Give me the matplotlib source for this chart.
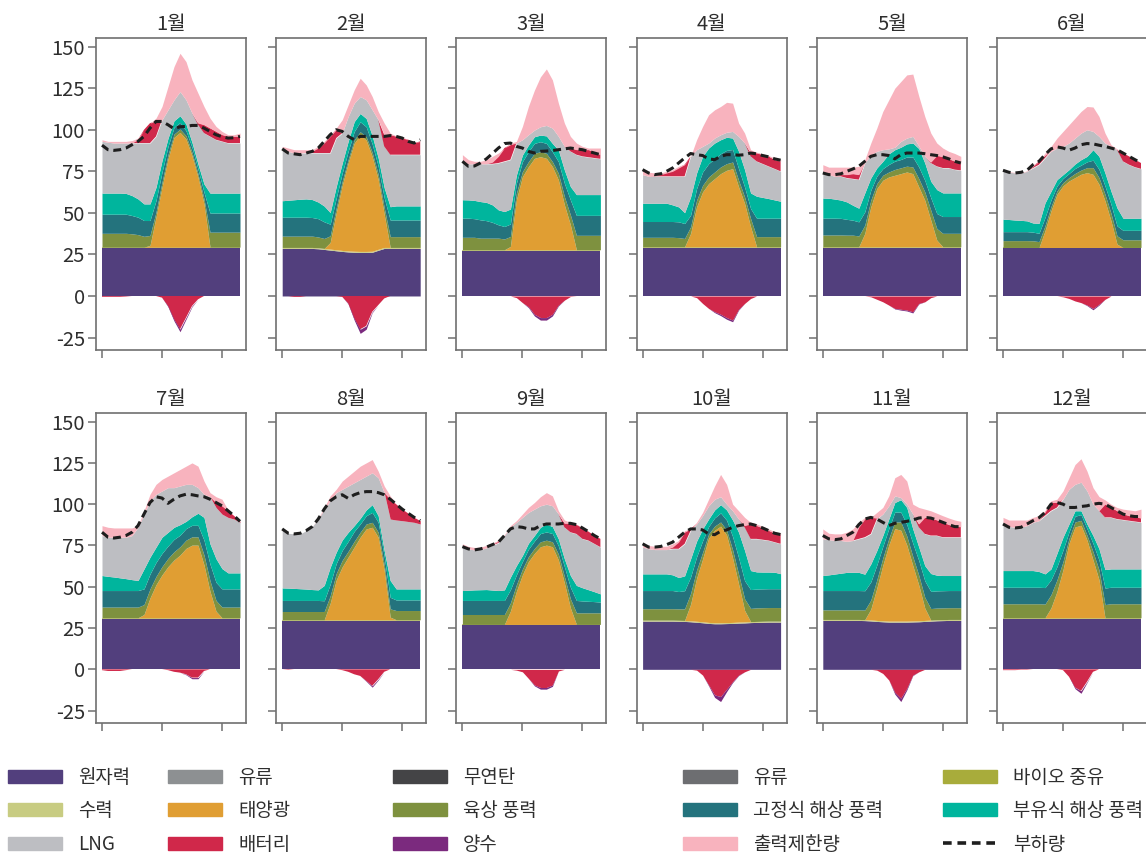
import matplotlib
matplotlib.use("Agg")
import numpy as np
import matplotlib.pyplot as plt
from matplotlib.patches import Patch
from matplotlib.lines import Line2D

plt.rcParams['font.family'] = ['Noto Sans CJK KR', 'DejaVu Sans']
plt.rcParams['font.weight'] = 'light'
plt.rcParams['axes.unicode_minus'] = False

HOURS = list(range(24))
MONTHS = ['1월', '2월', '3월', '4월', '5월', '6월', '7월', '8월', '9월', '10월', '11월', '12월']

# hourly generation per month (one list of 24 values per month)
NUCLEAR = [
    [28.6] * 24,
    [28.6, 28.6, 28.6, 28.6, 28.6, 28.6, 28.4, 28, 27.6, 27.2, 26.8, 26.5, 26.3, 26.2, 26.2, 26.3, 27.5, 28.6, 28.6, 28.6, 28.6, 28.6, 28.6, 28.6],
    [27.2] * 24,
    [28.6] * 24,
    [29] * 24,
    [28.6] * 24,
    [30.6] * 24,
    [29.2] * 24,
    [26.6] * 24,
    [29.2, 29.2, 29.2, 29.2, 29.2, 29.2, 29.1, 29, 28.8, 28.5, 28.2, 27.8, 27.6, 27.6, 27.7, 27.8, 28, 28.1, 28.3, 28.4, 28.5, 28.6, 28.6, 28.6],
    [29.6, 29.6, 29.6, 29.6, 29.6, 29.6, 29.6, 29.5, 29.3, 29, 28.8, 28.6, 28.6, 28.6, 28.6, 28.7, 28.8, 29, 29.2, 29.4, 29.5, 29.6, 29.6, 29.6],
    [30.6] * 24,
]
HYDRO = [[0.8] * 24, [0.6] * 24, [0.6] * 24, [1.0] * 24, [0.6] * 24, [0.6] * 24,
         [0.6] * 24, [0.8] * 24, [0.6] * 24, [0.6] * 24, [0.6] * 24, [0.6] * 24]
SOLAR = [
    [0, 0, 0, 0, 0, 0, 0, 0, 1, 18, 36, 53, 66, 69, 65, 55, 42, 26, 0, 0, 0, 0, 0, 0],
    [0, 0, 0, 0, 0, 0, 0, 0, 4, 22, 39, 53, 65, 70, 67, 57, 42, 20, 0, 0, 0, 0, 0, 0],
    [0, 0, 0, 0, 0, 0, 0, 0, 2, 30, 44, 50, 55, 56, 55, 50, 42, 27, 15, 0, 0, 0, 0, 0],
    [0, 0, 0, 0, 0, 0, 0, 0, 8, 24, 33, 38, 41, 44, 46, 47, 36, 26, 12, 0, 0, 0, 0, 0],
    [0, 0, 0, 0, 0, 0, 0, 8, 24, 35, 40, 42, 43, 44, 45, 44, 36, 28, 16, 4, 0, 0, 0, 0],
    [0, 0, 0, 0, 0, 0, 0, 10, 22, 32, 37, 40, 42, 44, 45, 44, 38, 28, 16, 2, 0, 0, 0, 0],
    [0, 0, 0, 0, 0, 0, 0, 2, 12, 20, 26, 31, 35, 38, 42, 44, 44, 32, 16, 4, 0, 0, 0, 0],
    [0, 0, 0, 0, 0, 0, 0, 0, 10, 24, 32, 38, 44, 50, 55, 56, 50, 30, 1.6, 0, 0, 0, 0, 0],
    [0, 0, 0, 0, 0, 0, 0, 0, 8, 20, 30, 38, 43, 47, 48, 47, 39, 25, 10, 0, 0, 0, 0, 0],
    [0, 0, 0, 0, 0, 0, 0, 0, 10, 26, 38, 51, 56, 58.5, 53, 39, 23, 7, 0, 0, 0, 0, 0, 0],
    [0, 0, 0, 0, 0, 0, 0, 0, 6.5, 19.5, 33.5, 46, 56, 55, 46, 33.5, 21.5, 7.5, 0, 0, 0, 0, 0, 0],
    [0, 0, 0, 0, 0, 0, 0, 0, 6, 16, 29, 45, 55, 56, 47, 35, 23, 0, 0, 0, 0, 0, 0, 0],
]
ONSHORE = [
    [8.3, 8.3, 8.3, 8.3, 8.3, 8, 7.5, 6.5, 6, 3, 3, 2.5, 2, 2, 2, 2, 2, 3, 9, 9, 9, 9, 9, 9],
    [6.8, 6.8, 6.8, 6.8, 6.8, 6.8, 6.5, 6, 4, 3, 2.5, 2, 2, 2, 2, 2.5, 3, 4, 6.5, 6.5, 6.5, 6.5, 6.5, 6.5],
    [7.5, 7.5, 7.5, 7, 7, 7, 7, 6.5, 6, 4, 3, 3, 3, 3, 3, 3, 4, 5, 6, 8.7, 8.7, 8.7, 8.7, 8.7],
    [5.7, 5.7, 5.7, 5.7, 5.7, 5.7, 5.5, 5, 4, 4, 4, 4, 4, 4, 4, 4, 4, 4, 5, 6.1, 6.1, 6.1, 6.1, 6.1],
    [7.1, 7.1, 7.1, 7.1, 7, 7, 6.5, 5, 4, 3, 3, 3, 3.5, 3.5, 3.5, 4, 5, 5, 6, 7, 8.1, 8.1, 8.1, 8.1],
    [4.1, 4.1, 4.1, 4.1, 4.1, 4, 3.5, 3, 2.5, 2, 2, 2, 2.5, 2.5, 3, 4, 4, 4, 4.5, 5, 4.6, 4.6, 4.6, 4.6],
    [6.5, 6.5, 6.5, 6.5, 6.5, 6.5, 6.5, 6, 5.5, 5, 5, 5, 5, 5, 5, 5, 5, 6, 6.5, 6.5, 6.5, 6.5, 6.5, 6.5],
    [5, 5, 5, 5, 5, 5, 5, 5, 4.5, 4, 4, 3.5, 3.5, 3, 3, 3, 3, 3.5, 5, 5.6, 5.6, 5.6, 5.6, 5.6],
    [6, 6, 6, 6, 6, 6, 6, 6, 5, 4, 3.5, 3, 3, 3, 3, 3, 3.5, 4, 5.5, 7, 7, 7, 7, 7],
    [6.9, 6.9, 6.9, 6.9, 6.9, 6.9, 6.9, 7, 6.5, 5, 4, 2.5, 2.5, 2.5, 3, 5, 6, 7, 8, 8.2, 8.2, 8.2, 8.2, 8.2],
    [5.8, 5.8, 5.8, 5.8, 5.8, 5.8, 5.8, 5.8, 5.5, 5, 4.5, 4, 4, 5, 5.5, 5.5, 6, 6.5, 7, 7.1, 7.1, 7.1, 7.1, 7.1],
    [8.5, 8.5, 8.5, 8.5, 8.5, 8.5, 8.5, 8.3, 8, 7, 5, 3, 3, 3, 3, 5, 6, 8, 8.5, 8.5, 8.5, 8.5, 8.5, 8.5],
]
FIXED_OFFSHORE = [
    [11.5, 11.5, 11.5, 11.5, 11.5, 11, 10.5, 9.5, 9, 7, 6, 5, 4, 4, 3, 3, 3, 4, 11.5, 11.5, 11.5, 11.5, 11.5, 11.5],
    [11.4, 11.4, 11.4, 11.4, 11.4, 11.2, 11, 10, 7, 6, 5, 5, 5, 6, 6, 5, 5, 6, 10, 10, 10, 10, 10, 10],
    [11.5, 11.5, 11.2, 11, 10.5, 9.5, 8, 7.5, 7.5, 6, 6, 6, 6, 6, 6, 6, 7, 8, 9, 12, 12, 12, 12, 12],
    [9.5, 9.5, 9.5, 9.5, 9.5, 9.5, 9.5, 9, 7, 7, 8, 8, 8, 8, 8, 7.5, 7, 6, 6, 11.1, 11.1, 11.1, 11.1, 11.1],
    [10.1, 10.1, 10.1, 10, 9.5, 9, 8.5, 8, 6, 4.5, 4, 4.5, 5, 5, 5.5, 6, 7, 7, 7.5, 9, 10.1, 10.1, 10.1, 10.1],
    [5.4, 5.4, 5.4, 5.4, 5.4, 5.2, 5, 5, 4, 3, 2.5, 2.5, 3, 3, 3.5, 4.5, 5, 5, 5.5, 6, 5.7, 5.7, 5.7, 5.7],
    [10, 10, 10, 10, 10, 10, 10, 9.5, 9, 8.5, 8, 7.5, 7.5, 7, 7, 7, 7, 9, 10, 11, 11, 11, 11, 11],
    [6.7, 6.7, 6.7, 6.7, 6.7, 6.7, 6.7, 6.5, 7, 6, 6, 6, 6, 5, 5, 6, 6, 5, 7, 6.4, 6.4, 6.4, 6.4, 6.4],
    [8.5, 8.5, 8.5, 8.5, 8.5, 8.5, 8.5, 8.5, 8, 6, 4.5, 4.5, 4.5, 5, 5, 5, 5, 6, 7, 7.5, 7.2, 7, 6.8, 6.5],
    [11, 11, 11, 11, 11, 11, 10.5, 11, 10, 8, 7, 4.5, 5, 5.5, 6, 8, 10, 11, 11.4, 11.4, 11.4, 11.4, 11.4, 11.4],
    [11.7, 11.7, 11.7, 11.7, 11.7, 11.7, 11.7, 11.7, 11, 9, 7, 6, 6, 6, 7, 8, 9, 10, 10.4, 10.4, 10.4, 10.4, 10.4, 10.4],
    [10, 10, 10, 10, 10, 10, 10, 10, 9, 8, 7, 4, 3.5, 3.5, 4, 5, 6, 10, 10, 10, 10, 10, 10, 10],
]
FLOATING_OFFSHORE = [
    [12.7, 12.7, 12.7, 12.7, 12.5, 12, 11, 10, 10, 8, 7, 5, 4, 4, 4, 3, 3, 5, 12, 12, 12, 12, 12, 12],
    [9.9, 10.2, 10.5, 10.8, 11, 10.8, 10, 9.5, 7, 7, 6, 6, 6, 5, 5, 5, 5, 6, 8, 8.5, 8.5, 8.5, 8.5, 8.5],
    [11.1, 11, 11, 11, 11, 10.5, 9, 9, 9, 5, 4, 4, 4, 4, 4.5, 5, 7, 8, 8, 12.5, 12.5, 12.5, 12.5, 12.5],
    [11, 11, 11, 11, 11, 10, 9, 6.5, 11, 9.4, 9.4, 9.4, 9.4, 8.4, 7.9, 6.9, 10.4, 10.4, 9.4, 13.2, 12.5, 11.8, 11, 10.2],
    [12.1, 12, 11.5, 11, 10.5, 9, 8.2, 11.4, 7.4, 4.9, 4.4, 6.4, 6.9, 7.4, 7.9, 8.4, 11.1, 10.4, 9.9, 14.4, 14.2, 14.2, 14.2, 14.2],
    [7.5, 7.3, 7, 6.8, 6.5, 5.5, 6, 8.8, 5.3, 3.8, 2.3, 2.3, 2.7, 3.3, 3.3, 6.3, 7.8, 7.8, 7.8, 10.8, 7.3, 7.3, 7.3, 7.3],
    [9.1, 8.6, 8.2, 7.7, 7.2, 6.6, 6.1, 12.1, 10.2, 9.3, 9.8, 8.3, 7.3, 6.4, 4.4, 5.2, 7.3, 13.8, 12.3, 14.3, 12.3, 9.7, 9.7, 9.7],
    [7.6, 7.5, 7.3, 7.1, 6.9, 6.6, 6.4, 9.3, 10.3, 6.9, 6.3, 5.5, 3.5, 3.4, 3.5, 4.7, 4, 3.4, 10.2, 6.7, 6.7, 6.7, 6.7, 6.7],
    [6, 6.2, 6.4, 6.5, 6.6, 6.3, 6, 6.4, 7.6, 5.6, 3.7, 3.6, 3.3, 3.8, 4.8, 4.2, 4.3, 4.7, 7.1, 9.1, 8, 7, 6, 5],
    [10.1, 10.1, 10.1, 10.1, 10.1, 9.5, 8.5, 9, 11, 9.5, 7.2, 4.6, 4.8, 5, 6.2, 10, 15.4, 18.3, 11.5, 10.4, 10.2, 10.1, 10, 9.1],
    [9.1, 9.5, 10, 10.5, 11, 11.1, 11, 10, 10.9, 8.8, 6.6, 5.8, 5.8, 7.5, 10.3, 8.7, 8.1, 9.2, 10.8, 9.5, 9.2, 9.1, 9.1, 9.1],
    [10.1, 10.1, 10.1, 10.1, 10.1, 10.1, 9.5, 8.3, 6.6, 8.1, 7.8, 4.8, 3.3, 2.3, 2.8, 4.8, 6.8, 11.2, 11.1, 11.1, 11.1, 11.1, 11.1, 11.1],
]
LNG = [
    [31.1, 30.6, 30.1, 30.1, 30.3, 31.6, 33.6, 36.6, 36.6, 30.6, 24.6, 17.1, 12.6, 14.6, 14.6, 17.6, 23.6, 30.6, 34.1, 32.1, 31.1, 30.1, 30.1, 30.1],
    [30.7, 29.4, 28.1, 27.8, 27.6, 28, 29.5, 31.9, 35.8, 29.2, 18.1, 14.9, 11.1, 10.2, 11.2, 15.6, 22.9, 24.8, 31.3, 30.8, 30.8, 30.8, 30.8, 30.8],
    [22.1, 21.7, 22, 22.7, 23.2, 24.7, 28.2, 30.2, 29.7, 19.2, 9.2, 6.2, 4, 5, 6.3, 9.2, 8.2, 14.2, 21.2, 24, 23, 22.5, 22, 21.5],
    [17.2, 16.2, 16.2, 16.2, 16.2, 17.2, 18.4, 21.9, 24.4, 14, 6, 3, 3, 3, 3, 4, 9, 16, 22, 21, 20.2, 19.4, 18.7, 18],
    [14.6, 14.2, 13.7, 14.3, 14.4, 15.9, 17.2, 18, 14, 10, 7, 3, 1.5, 3.5, 3.5, 4, 1.5, 4, 11, 14, 15, 15, 14, 13.6],
    [29.4, 28.5, 28.3, 28.5, 29.8, 33.1, 35.3, 27, 24, 19, 17, 16, 15.6, 16, 16, 11, 12, 18, 27, 35, 34.2, 32.2, 30.7, 29.7],
    [24.2, 23.7, 24.1, 24.6, 25.1, 26.7, 32.2, 33.2, 34.1, 32, 28, 27, 24, 23.4, 22.4, 19.6, 15.5, 14, 28.5, 31, 33, 33.6, 32.6, 30.6],
    [35.7, 33.2, 33, 33.2, 35.4, 38.1, 42.9, 46.2, 40.2, 36.1, 30.7, 28, 26, 23.6, 20.5, 19.3, 23, 35.1, 37.2, 41.7, 41.3, 40.8, 40.3, 39.3],
    [26.3, 25, 24.2, 24.3, 25.2, 27, 28.8, 32.9, 30.2, 26.2, 23.1, 18.7, 16, 13, 12, 12.6, 15, 19.1, 26.2, 31.2, 29.6, 29.8, 29, 28.3],
    [16.2, 15.2, 14.7, 14.7, 14.7, 15.8, 17.4, 19.4, 17.1, 10.4, 8, 8, 6.5, 4.8, 3.5, 5.6, 8, 14, 19.2, 20, 19.6, 19.1, 18.2, 18.1],
    [22.2, 21.3, 20.3, 19.8, 18.8, 19.2, 20.3, 22.4, 18.2, 19.1, 13, 8, 4, 1.3, 2, 9, 12, 19.2, 23, 24, 23.2, 23.2, 23.2, 23.2],
    [29.2, 26.7, 26.2, 26.2, 27.2, 29.2, 30.8, 35.2, 35.2, 27.7, 23, 21, 16, 17.3, 20, 19, 23, 31.6, 31.2, 30.2, 29.7, 29.2, 28.7, 28.2],
]
BATTERY_OUT = [
    [0, 0, 0, 0, 0, 0, 2, 8, 12, 9, 0, 0, 0, 0, 0, 0, 1, 5, 5, 5, 4, 4, 4, 4],
    [0, 0, 0, 0, 0.5, 1, 3, 6, 10, 5, 0, 0, 0, 0, 0, 0, 0, 7, 12, 11, 10, 9, 7, 8],
    [0, 0, 0, 0, 0, 1, 4, 8, 9, 0, 0, 0, 0, 0, 0, 0, 0, 0, 2, 3, 4, 4.5, 3.5, 2.5],
    [0, 0, 0.5, 1, 2, 3, 5, 7, 0, 0, 0, 0, 0, 0, 0, 0, 0, 0, 2, 5, 5.5, 6, 5.5, 6],
    [0, 0, 0, 1, 2, 3, 3, 0, 0, 0, 0, 0, 0, 0, 0, 0, 0, 0, 0.5, 6.5, 6.7, 5.5, 5, 4.4],
    [0, 0, 0, 0, 0, 1, 2, 1.5, 0, 0, 0, 0, 0, 0, 0, 0, 0, 0, 0, 0, 5, 5, 4.5, 3.5],
    [0, 0, 0, 0, 0, 0, 0, 0, 0, 0, 0, 0, 0, 0, 0, 0, 0, 0, 0, 3, 5, 4, 2, 0.6],
    [0, 0, 0, 0, 0, 0, 0, 0, 0, 0, 0, 0, 0, 0, 0, 0, 0, 0, 12, 9.6, 7, 5, 3, 2],
    [0, 0, 0, 0, 0, 0.5, 1, 0, 0, 0, 0, 0, 0, 0, 0, 0, 0, 2.4, 5.4, 5.6, 6.6, 5.4, 5, 5],
    [0, 0, 0, 0, 0, 1, 4, 7, 1, 0, 0, 0, 0, 0, 0, 0, 0, 1, 9, 8, 7.1, 6, 5.4, 5.6],
    [0, 0, 0, 0, 0, 0, 7, 11, 10, 0.5, 0, 0, 0, 0, 0, 0, 2, 10, 10.6, 9.4, 9, 7.6, 6.4, 6.4],
    [0, 0, 0, 0, 0, 0, 0, 2, 5, 3, 0, 0, 0, 0, 0, 0, 0, 8, 6, 5, 3.5, 3, 3, 2.5],
]
CURTAILED = [
    [1, 0.5, 1, 1, 1, 1.5, 1, 0, 0, 2, 8, 14, 20, 23, 23, 20, 18, 11, 6, 3, 2, 1, 1, 2],
    [2, 2, 2, 2, 1.5, 1, 1, 1, 1, 1, 8, 7, 8, 11, 9, 8, 5, 7, 1, 0.3, 0.3, 0.3, 0.3, 0.3],
    [5, 2.5, 1.5, 1.5, 2.5, 3.5, 2, 0, 1, 1, 8, 17, 24, 30, 34, 29, 20, 14, 7, 4, 2, 1, 2.5, 4],
    [3, 2.5, 1.5, 1, 1, 1, 1, 0.5, 0, 6, 12, 17, 17, 17, 18, 17, 8, 6, 2, 0.5, 0.5, 0.5, 1, 1],
    [5.5, 4.5, 5.5, 4.5, 4.5, 4, 5, 2, 7, 14, 23, 29.5, 35.5, 36, 38, 37.5, 30, 24, 17.5, 7.5, 5.3, 4.5, 4.7, 4],
    [0.3, 0.3, 0.3, 0.3, 0.3, 1, 0, 1.5, 3, 6, 9, 11, 12, 13, 14, 14.7, 12, 6, 1, 0.5, 0, 0, 0, 0],
    [6, 6, 5.6, 5.6, 5.6, 4.6, 1, 2, 4, 6, 7, 7, 9, 10, 11, 13, 13, 8, 2.5, 3.5, 4, 0.5, 0, 0],
    [0, 0, 0, 0, 0, 0, 0.5, 1, 3, 2, 5, 6, 7, 8, 8, 8, 4, 4, 2, 0, 0, 0, 0, 0],
    [2, 1.5, 1.5, 1.5, 1.5, 1, 0.5, 0.5, 1, 1, 2, 3, 4, 5.5, 7, 6, 2, 2, 0.6, 0.3, 0, 0, 0, 0],
    [2, 2, 2, 2, 2, 2, 1, 1, 0, 1, 2, 4, 8, 13.5, 12, 4, 5, 5, 1, 1, 1, 1, 1, 1],
    [6, 3.9, 4, 4, 5.5, 7, 3, 1, 0, 3.5, 4, 6, 11, 14, 14, 6, 10, 5, 4.4, 4.1, 4, 4, 4, 3.2],
    [3, 3.9, 4.4, 4.4, 3.4, 3, 3, 1, 1, 2, 5, 7, 12, 14.2, 12, 10, 8.6, 2.6, 2, 2, 3, 3.5, 3.5, 5.5],
]
# charging side (negative values)
BATTERY_IN = [
    [-0.5, -0.5, -0.5, -0.5, -0.3, 0, 0, 0, 0, 0, -1, -6, -14, -20, -13, -6, -2, 0, 0, 0, 0, 0, 0, 0],
    [0, 0, -0.5, -0.5, 0, 0, 0, 0, 0, 0, -0.5, -4.5, -13.5, -20, -18, -9.5, -5.5, -1.5, 0, 0, 0, 0, 0, 0],
    [0, 0, 0, 0, 0, 0, 0, 0, 0, -1, -4, -6.5, -11, -13, -13, -11, -5.5, -2.5, -0.3, 0, 0, 0, 0, 0],
    [0, 0, 0, 0, 0, 0, 0, 0, 0, -1, -4.5, -7.5, -9.5, -11, -13, -14.5, -8, -4.5, -1.5, 0, 0, 0, 0, 0],
    [0, 0, 0, 0, 0, 0, 0, 0, -0.5, -2, -3.5, -5.5, -7.5, -8, -8.5, -9.5, -4.5, -3.5, -1, 0, 0, 0, 0, 0],
    [0, 0, 0, 0, 0, 0, 0, 0, 0, 0, -0.5, -1.5, -3, -4, -5.5, -7.5, -5, -2, 0, 0, 0, 0, 0, 0],
    [-0.5, -1, -1, -1, -0.5, 0, 0, 0, 0, 0, 0, -0.5, -1.5, -2, -3, -5, -5, -1, 0, 0, 0, 0, 0, 0],
    [0, -0.3, 0, 0, 0, 0, 0, 0, 0, 0, -0.5, -1.5, -3, -4, -7, -10, -6, -1.5, 0, 0, 0, 0, 0, 0],
    [0, 0, 0, 0, 0, 0, 0, 0, 0, -0.5, -1.5, -5.5, -9.5, -11, -11, -9.5, -1, 0, 0, 0, 0, 0, 0, 0],
    [0, 0, 0, 0, 0, 0, 0, 0, 0, -0.5, -3.5, -9.5, -15.5, -16.5, -12, -7.5, -3.5, -1.5, 0, 0, 0, 0, 0, 0],
    [0, 0, 0, 0, 0, 0, 0, 0, 0, -0.5, -2.5, -6.5, -14, -17.5, -11.5, -3.5, -1.5, 0, 0, 0, 0, 0, 0, 0],
    [-0.5, -0.5, -0.5, -0.3, -0.3, 0, 0, 0, 0, 0, -0.5, -4.5, -11, -13, -7.5, -1.5, 0, 0, 0, 0, 0, 0, 0, 0],
]
PUMPED = [
    [0, 0, 0, 0, 0, 0, 0, 0, 0, 0, 0, -0.5, -1, -1.5, -1, -0.5, 0, 0, 0, 0, 0, 0, 0, 0],
    [0, 0, 0, 0, 0, 0, 0, 0, 0, 0, 0, -0.3, -1, -2.5, -2, -0.5, 0, 0, 0, 0, 0, 0, 0, 0],
    [0, 0, 0, 0, 0, 0, 0, 0, 0, 0, 0, -0.5, -1, -1.5, -1.5, -1, -0.5, 0, 0, 0, 0, 0, 0, 0],
    [0, 0, 0, 0, 0, 0, 0, 0, 0, 0, 0, 0, -0.5, -0.8, -1, -1, -0.5, 0, 0, 0, 0, 0, 0, 0],
    [0, 0, 0, 0, 0, 0, 0, 0, 0, 0, 0, 0, -0.3, -0.5, -0.5, -0.7, -0.3, 0, 0, 0, 0, 0, 0, 0],
    [0, 0, 0, 0, 0, 0, 0, 0, 0, 0, 0, 0, 0, 0, -0.3, -0.8, -0.5, 0, 0, 0, 0, 0, 0, 0],
    [0, 0, 0, 0, 0, 0, 0, 0, 0, 0, 0, 0, 0, 0, -0.3, -0.7, -0.7, 0, 0, 0, 0, 0, 0, 0],
    [0, 0, 0, 0, 0, 0, 0, 0, 0, 0, 0, 0, 0, 0, -0.3, -0.8, -0.5, 0, 0, 0, 0, 0, 0, 0],
    [0, 0, 0, 0, 0, 0, 0, 0, 0, 0, 0, 0, -0.5, -1, -1, -0.8, 0, 0, 0, 0, 0, 0, 0, 0],
    [0, 0, 0, 0, 0, 0, 0, 0, 0, 0, 0, -0.5, -1.5, -3, -1.5, -0.5, -0.3, 0, 0, 0, 0, 0, 0, 0],
    [0, 0, 0, 0, 0, 0, 0, 0, 0, 0, 0, 0, -1, -2, -1, -0.3, 0, 0, 0, 0, 0, 0, 0, 0],
    [0, 0, 0, 0, 0, 0, 0, 0, 0, 0, 0, 0, -0.7, -1.5, -0.5, 0, 0, 0, 0, 0, 0, 0, 0, 0],
]
LOAD = [
    [90.7, 88, 87.6, 88, 89, 91, 93, 96, 101, 105, 105, 103, 100.6, 101.8, 102, 102.6, 102.6, 101, 99, 97, 95.8, 95, 95.2, 96],
    [88.5, 86, 85.5, 85, 86, 87, 89, 93, 97, 100, 99, 96, 94, 96, 96, 96, 96, 96, 96.5, 96, 95, 93, 92, 94],
    [81, 78, 78.2, 80, 82.5, 85.7, 89, 91.7, 92, 90, 89, 87, 86, 87, 87.2, 87.5, 88, 88.5, 89, 88.5, 88, 87, 86, 85],
    [76, 74, 73, 73.5, 75, 77, 80, 83, 85.7, 85, 84.5, 82.5, 82, 84, 85, 85, 84.7, 85, 86, 85.5, 84.5, 83.7, 82.5, 81.7],
    [74, 73, 73, 73.5, 75, 76.4, 78, 81, 84, 85, 85, 84.5, 82.5, 85, 86, 86, 86, 85.6, 85, 84.5, 83.7, 82.5, 81, 80],
    [75.6, 74.4, 74, 74.4, 75.6, 79, 81, 85, 88.5, 89.7, 89, 87.7, 89, 91, 91.7, 91.5, 90.7, 90, 89, 88, 86, 84, 82, 80],
    [83, 80, 79.5, 80, 81, 83, 87, 94, 101, 104.5, 103.7, 100.5, 103, 105, 106, 105.7, 105, 104.5, 103, 101, 99, 96, 93, 89.6],
    [85, 82.4, 82, 82.4, 84, 86.4, 91, 97, 102, 104.5, 105.7, 103.5, 105.7, 107, 107.6, 107.6, 107, 105.7, 103, 100, 97, 94.5, 92, 90],
    [74.3, 72.9, 72.3, 72.9, 74, 75.5, 77, 81, 85, 86.4, 86, 85, 85, 87, 88, 88, 88, 88.4, 88.4, 87.6, 85.6, 83.4, 81, 79],
    [76, 74, 74, 74.4, 75.5, 77, 80, 83, 85, 85, 84.4, 82, 81.5, 83.6, 84.4, 86, 87, 87.6, 88, 87, 85.6, 84, 82.4, 81.6],
    [81, 79, 78.5, 79, 81, 83, 87.6, 91, 92, 91, 89, 87, 88.4, 89, 89.6, 90.4, 91.6, 92, 91.6, 90.4, 89, 87.6, 86.4, 86.4],
    [88, 86, 85.6, 86, 88, 90, 91.8, 95, 100, 101, 100, 98, 98, 98.6, 99, 100, 100.5, 100, 98, 96, 94, 93, 92.5, 92.5],
]

COLORS = {
    '원자력': '#523f7d',
    '수력': '#c8cc82',
    'LNG': '#bdbec2',
    '유류1': '#8d9092',
    '태양광': '#e09e33',
    '배터리': '#d0284a',
    '무연탄': '#444446',
    '육상 풍력': '#7e913f',
    '양수': '#7b2a7e',
    '유류2': '#6d6e71',
    '고정식 해상 풍력': '#24737d',
    '출력제한량': '#f8b3be',
    '바이오 중유': '#a8ac3b',
    '부유식 해상 풍력': '#00b59d',
}
AXIS_GRAY = '#707070'
TEXT = '#2e2e2e'


def stack(ax, x, layers, colors):
    """Stacked areas, skipping stretches where a layer is zero so no hairline is drawn."""
    x = np.asarray(x, dtype=float)
    base = np.zeros_like(x)
    for vals, c in zip(layers, colors):
        vals = np.asarray(vals, dtype=float)
        nz = vals != 0
        # keep the point on either side of a non-zero run so ramps stay intact
        mask = nz | np.r_[nz[1:], False] | np.r_[False, nz[:-1]]
        if nz.any():
            ax.fill_between(x, base, base + vals, where=mask, color=c,
                            linewidth=0, interpolate=False)
        base = base + vals


W, H = 1146, 856
fig = plt.figure(figsize=(W / 100, H / 100), dpi=100)

pos_colors = [COLORS[k] for k in ['원자력', '수력', '태양광', '육상 풍력', '고정식 해상 풍력',
                                  '부유식 해상 풍력', 'LNG', '배터리', '출력제한량']]
neg_colors = [COLORS['배터리'], COLORS['양수']]

for i in range(12):
    row, col = divmod(i, 6)
    left = 96 + 180.2 * col
    top = 38 if row == 0 else 413
    height = 312 if row == 0 else 310
    ax = fig.add_axes([left / W, 1 - (top + height) / H, 150 / W, height / H])

    pos = [NUCLEAR[i], HYDRO[i], SOLAR[i], ONSHORE[i], FIXED_OFFSHORE[i],
           FLOATING_OFFSHORE[i], LNG[i], BATTERY_OUT[i], CURTAILED[i]]
    stack(ax, HOURS, pos, pos_colors)
    stack(ax, HOURS, [BATTERY_IN[i], PUMPED[i]], neg_colors)
    ax.plot(HOURS, LOAD[i], color='#1e1e1e', lw=2.2, dashes=(2.6, 1.6), zorder=5)

    ax.set_xlim(-1, 24)
    ax.set_ylim(-32.5, 155.2)
    ax.set_xticks([0, 10, 20])
    ax.set_xticklabels([])
    ax.set_yticks(range(-25, 151, 25))
    if col == 0:
        ax.set_yticklabels([str(v) for v in range(-25, 151, 25)])
    else:
        ax.set_yticklabels([])
    ax.tick_params(length=6, width=1.1, color=AXIS_GRAY, labelsize=14.5,
                   labelcolor=TEXT, pad=2)
    for sp in ax.spines.values():
        sp.set_color(AXIS_GRAY)
        sp.set_linewidth(1.2)
    ax.set_title(MONTHS[i], fontsize=14.5, color=TEXT, pad=6)

# legend, five columns of three entries
legend_cols = [
    (8, [('원자력', Patch(color=COLORS['원자력'])),
         ('수력', Patch(color=COLORS['수력'])),
         ('LNG', Patch(color=COLORS['LNG']))]),
    (168, [('유류', Patch(color=COLORS['유류1'])),
           ('태양광', Patch(color=COLORS['태양광'])),
           ('배터리', Patch(color=COLORS['배터리']))]),
    (393, [('무연탄', Patch(color=COLORS['무연탄'])),
           ('육상 풍력', Patch(color=COLORS['육상 풍력'])),
           ('양수', Patch(color=COLORS['양수']))]),
    (683, [('유류', Patch(color=COLORS['유류2'])),
           ('고정식 해상 풍력', Patch(color=COLORS['고정식 해상 풍력'])),
           ('출력제한량', Patch(color=COLORS['출력제한량']))]),
    (943, [('바이오 중유', Patch(color=COLORS['바이오 중유'])),
           ('부유식 해상 풍력', Patch(color=COLORS['부유식 해상 풍력'])),
           ('부하량', Line2D([], [], color='#1e1e1e', lw=2.6, dashes=(2.4, 1.6)))]),
]
for x, entries in legend_cols:
    fig.legend([h for _, h in entries], [l for l, _ in entries],
               loc='upper left', bbox_to_anchor=(x / W, 1 - 767 / H),
               frameon=False, fontsize=13.6, handlelength=2.86, handleheight=0.7,
               handletextpad=0.85, labelspacing=0.66, borderpad=0, borderaxespad=0,
               labelcolor=TEXT)

fig.savefig('out.png', dpi=100)
